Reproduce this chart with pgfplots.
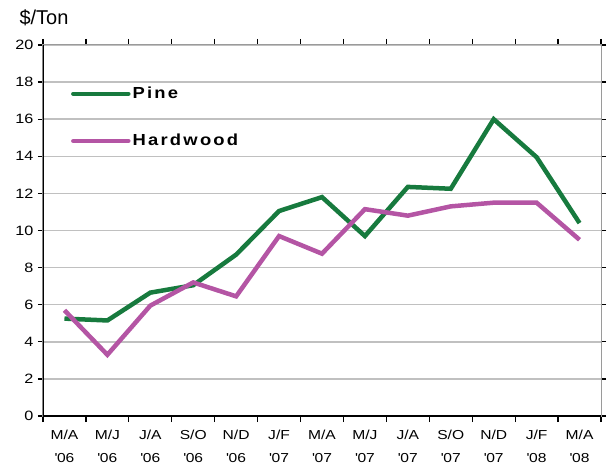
\documentclass[border=0pt]{standalone}
\usepackage{fontspec}
\setmainfont{Liberation Sans}
\usepackage{pgfplots}
\pgfplotsset{compat=1.18}
\definecolor{pine}{HTML}{177A3E}
\definecolor{hard}{HTML}{B455A4}
\definecolor{gridc}{HTML}{C0C0C0}
\newfontfamily\legfont[LetterSpace=14,FakeStretch=1.15]{Liberation Sans}
\newfontfamily\tickfont[FakeStretch=1.2]{Liberation Sans}
\begin{document}
\begin{tikzpicture}
\begin{axis}[
  name=ax,
  scale only axis,
  width=558bp, height=371bp,
  xmin=-0.5, xmax=12.5,
  ymin=0, ymax=20,
  ytick={0,2,...,20},
  xtick={0,...,12},
  xticklabels={{M/A\\\textquotesingle 06},{M/J\\\textquotesingle 06},{J/A\\\textquotesingle 06},{S/O\\\textquotesingle 06},{N/D\\\textquotesingle 06},{J/F\\\textquotesingle 07},{M/A\\\textquotesingle 07},{M/J\\\textquotesingle 07},{J/A\\\textquotesingle 07},{S/O\\\textquotesingle 07},{N/D\\\textquotesingle 07},{J/F\\\textquotesingle 08},{M/A\\\textquotesingle 08}},
  minor xtick={-0.5,0.5,...,12.5},
  major x tick style={draw=none},
  minor x tick style={black, line width=1.2bp},
  minor tick length=6bp,
  major tick length=5bp,
  ytick style={black, line width=1.2bp},
  tick align=outside,
  ymajorgrids,
  grid style={gridc, line width=1.5bp},
  axis line style={draw=gridc!80!black, line width=1bp},
  x tick label style={align=center, font=\tickfont\fontsize{13bp}{23bp}\selectfont, yshift=-6bp},
  y tick label style={font=\tickfont\fontsize{13.5bp}{15bp}\selectfont, xshift=-1bp},
  /pgf/number format/assume math mode=true,
  legend style={at={(0.05,0.892)}, anchor=north west, draw=none, fill=none,
    font=\legfont\fontsize{16bp}{18bp}\selectfont\bfseries, row sep=30bp, inner sep=0pt},
  legend cell align=left,
  legend image code/.code={\draw[#1, line width=4.5bp, line cap=round] (0bp,0bp) -- (55bp,0bp);},
]
\draw[black, line width=2bp] (rel axis cs:0,1) -- (rel axis cs:0,0) -- (rel axis cs:1,0);
\addplot[pine, line width=4.5bp, line join=miter] coordinates {
(0,5.25) (1,5.15) (2,6.65) (3,7.05) (4,8.7) (5,11.05) (6,11.8) (7,9.7) (8,12.35) (9,12.25) (10,16.0) (11,13.95) (12,10.4)};
\addlegendentry{Pine}
\addplot[hard, line width=4.5bp, line join=miter] coordinates {
(0,5.7) (1,3.3) (2,5.95) (3,7.2) (4,6.45) (5,9.7) (6,8.75) (7,11.15) (8,10.8) (9,11.3) (10,11.5) (11,11.5) (12,9.5)};
\addlegendentry{Hardwood}
\end{axis}
\node[anchor=west, font=\fontsize{20bp}{24bp}\selectfont] at ([xshift=-27bp,yshift=27bp]ax.north west) {\$/Ton};
\path ([xshift=-43bp,yshift=-56bp]ax.south west) rectangle ([xshift=7bp,yshift=45bp]ax.north east);
\end{tikzpicture}
\end{document}
